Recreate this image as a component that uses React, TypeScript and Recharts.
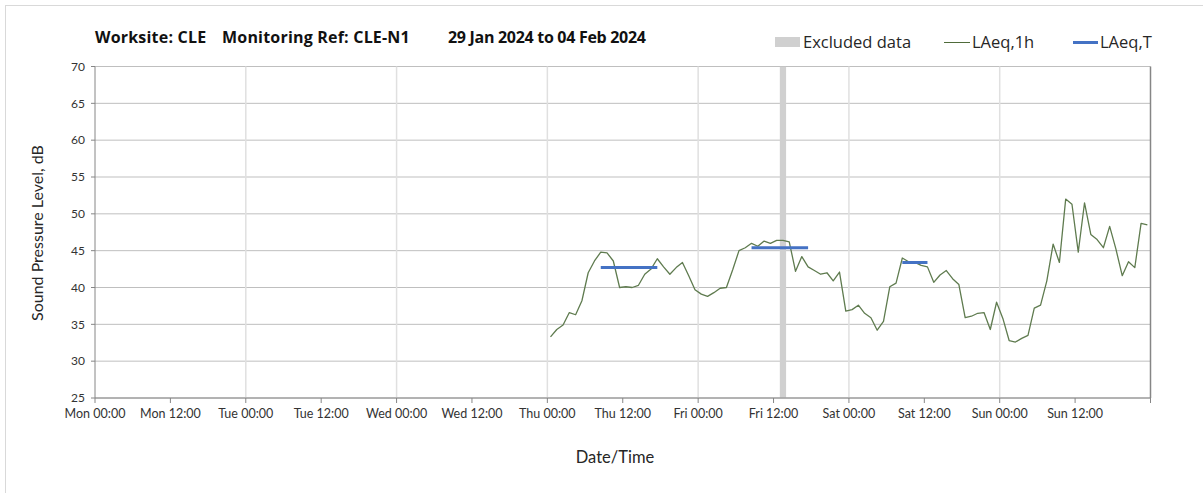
import React from 'react';
import { ComposedChart, Line, XAxis, YAxis, CartesianGrid, ReferenceLine, ReferenceArea } from 'recharts';

// Hourly LAeq,1h values (dB), each day 00:00..23:00
const thu = [33.3, 34.3, 34.9, 36.6, 36.3, 38.2, 42.0, 43.6, 44.8, 44.7, 43.6, 40.0, 40.1, 40.0, 40.3, 41.8, 42.5, 43.9, 42.8, 41.8, 42.7, 43.4, 41.6, 39.7];
const fri = [39.1, 38.8, 39.3, 39.9, 40.0, 42.4, 45.0, 45.4, 46.0, 45.6, 46.3, 46.0, 46.4, 46.4, 46.2, 42.2, 44.2, 42.8, 42.3, 41.8, 42.0, 40.9, 42.1, 36.8];
const sat = [37.0, 37.6, 36.5, 35.9, 34.2, 35.4, 40.1, 40.6, 44.0, 43.5, 43.4, 43.0, 42.8, 40.7, 41.7, 42.3, 41.2, 40.4, 35.9, 36.1, 36.5, 36.6, 34.3, 38.0];
const sun = [35.8, 32.8, 32.6, 33.1, 33.5, 37.2, 37.6, 40.9, 45.9, 43.4, 52.0, 51.3, 44.8, 51.5, 47.2, 46.5, 45.4, 48.3, 45.2, 41.6, 43.5, 42.7, 48.7, 48.5];
const dataDays = [3, 4, 5, 6]; // day index from Monday for thu..sun

// LAeq,T periods: day index, start hour, end hour, value
const periodDay = [3, 4, 5];
const periodStart = [8, 8, 8];
const periodEnd = [17, 17, 12];
const periodValue = [42.7, 45.4, 43.4];

// Excluded data window (hours from Mon 00:00)
const excludedFrom = 109;
const excludedTo = 110;

const dayNames = ['Mon', 'Tue', 'Wed', 'Thu', 'Fri', 'Sat', 'Sun'];
const timeLabels = ['00:00', '12:00'];
const yTicks = [25, 30, 35, 40, 45, 50, 55, 60, 65, 70];

const xTicks: number[] = [];
for (let h = 0; h <= 168; h += 12) xTicks.push(h);
const dayLines = [24, 48, 72, 96, 120, 144];

const fmtX = (h: number) => {
  if (h >= 168) return '';
  const d = Math.floor(h / 24);
  return `${dayNames[d]} ${timeLabels[(h % 24) / 12]}`;
};

const series = [thu, fri, sat, sun];
const rows: { t: number; la: number; lt: number | null }[] = [];
series.forEach((vals, si) => {
  vals.forEach((v, hr) => {
    const day = dataDays[si];
    let lt: number | null = null;
    periodDay.forEach((pd, pi) => {
      if (pd === day && hr >= periodStart[pi] && hr <= periodEnd[pi]) lt = periodValue[pi];
    });
    rows.push({ t: day * 24 + hr + 0.5, la: v, lt });
  });
});

const FONT = 'Lato, "Open Sans", sans-serif';
const TFONT = '"Open Sans", Lato, sans-serif';
const textCol = '#262626';

export default function App() {
  const titleStyle: React.CSSProperties = { position: 'absolute', top: 26, fontSize: 16, fontWeight: 700, color: '#111', whiteSpace: 'pre', fontFamily: TFONT, letterSpacing: 0.2 };
  const legStyle: React.CSSProperties = { position: 'absolute', top: 30, fontSize: 16.5, color: textCol, fontFamily: TFONT, whiteSpace: 'nowrap' };
  return (
    <div style={{ position: 'absolute', left: 0, top: 0, width: 1203, height: 493, background: '#fff', fontFamily: FONT, overflow: 'hidden' }}>
      <div style={{ position: 'absolute', left: 5, top: 5, width: 1300, height: 600, border: '1px solid #d9d9d9' }} />
      <div style={{ ...titleStyle, left: 95 }}>Worksite: CLE</div>
      <div style={{ ...titleStyle, left: 222 }}>Monitoring Ref: CLE-N1</div>
      <div style={{ ...titleStyle, left: 448, letterSpacing: -0.3 }}>29 Jan 2024 to 04 Feb 2024</div>

      <div style={{ position: 'absolute', left: 775, top: 37, width: 25, height: 10, background: '#d0d0d0' }} />
      <div style={{ ...legStyle, left: 803 }}>Excluded data</div>
      <div style={{ position: 'absolute', left: 944, top: 41.5, width: 26, height: 1, background: '#4f6b3a' }} />
      <div style={{ ...legStyle, left: 972 }}>LAeq,1h</div>
      <div style={{ position: 'absolute', left: 1073, top: 40.5, width: 25, height: 3, background: '#4472c4' }} />
      <div style={{ ...legStyle, left: 1100 }}>LAeq,T</div>

      <div style={{ position: 'absolute', left: 36, top: 233, transform: 'translate(-50%, -50%) rotate(-90deg)', fontSize: 16, color: textCol, whiteSpace: 'nowrap' }}>Sound Pressure Level, dB</div>
      <div style={{ position: 'absolute', left: 615, top: 457, transform: 'translate(-50%, -50%)', fontSize: 16.5, color: textCol, whiteSpace: 'nowrap' }}>Date/Time</div>

      <div style={{ position: 'absolute', left: 0, top: 0 }}>
        <ComposedChart width={1203} height={493} data={rows} margin={{ top: 66.5, left: 50, right: 52.5, bottom: 65 }}>
          <ReferenceArea x1={excludedFrom} x2={excludedTo} y1={25} y2={70} fill="#d0d0d0" fillOpacity={1} stroke="none" ifOverflow="hidden" />
          <CartesianGrid vertical={false} stroke="#bfbfbf" strokeWidth={1} />
          {dayLines.map((d) => (
            <ReferenceLine key={d} x={d} stroke="#e0e0e0" strokeWidth={1.5} />
          ))}
          <ReferenceLine x={168} stroke="#868686" strokeWidth={1.5} />
          <XAxis
            type="number"
            dataKey="t"
            domain={[0, 168]}
            ticks={xTicks}
            tickFormatter={fmtX}
            interval={0}
            height={30}
            tickSize={5}
            tickMargin={6}
            stroke="#868686"
            tick={{ fill: '#333', fontSize: 12.5, fontFamily: FONT }}
            allowDataOverflow
          />
          <YAxis
            type="number"
            domain={[25, 70]}
            ticks={yTicks}
            interval={0}
            width={45}
            tickSize={4}
            tickMargin={6}
            stroke="#868686"
            tick={{ fill: '#333', fontSize: 12, fontFamily: FONT }}
          />
          <Line type="linear" dataKey="la" stroke="#5f7b4f" strokeWidth={1.3} dot={false} isAnimationActive={false} strokeLinejoin="round" />
          <Line type="linear" dataKey="lt" stroke="#4472c4" strokeWidth={3} dot={false} isAnimationActive={false} connectNulls={false} />
        </ComposedChart>
      </div>
    </div>
  );
}
